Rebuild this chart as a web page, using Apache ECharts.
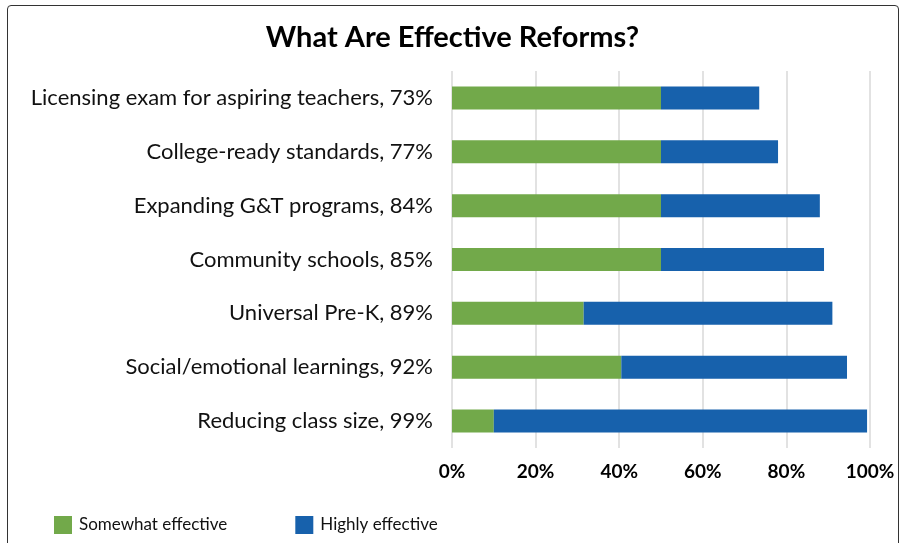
<!DOCTYPE html>
<html>
<head>
<meta charset="utf-8">
<script src="https://cdn.jsdelivr.net/npm/echarts@6/dist/echarts.min.js"></script>
<style>
html,body{margin:0;padding:0;background:#fff;}
#frame{position:absolute;left:7px;top:5px;width:892px;height:560px;border:1.5px solid #333;border-radius:4px;box-sizing:border-box;}
#chart{position:absolute;left:0;top:0;width:905px;height:543px;}
</style>
</head>
<body>
<div id="frame"></div>
<div id="chart"></div>
<script>
const categories = [
  "Licensing exam for aspiring teachers, 73%",
  "College-ready standards, 77%",
  "Expanding G&T programs, 84%",
  "Community schools, 85%",
  "Universal Pre-K, 89%",
  "Social/emotional learnings, 92%",
  "Reducing class size, 99%"
];
const somewhatEffective = [50, 50, 50, 50, 31.5, 40.5, 10];
const highlyEffective = [23.5, 28, 38, 39, 59.5, 54, 89.3];
const tickLabels = ["0%", "20%", "40%", "60%", "80%", "100%"];

const chart = echarts.init(document.getElementById('chart'));
chart.setOption({
  animation: false,
  title: {
    text: 'What Are Effective Reforms?',
    left: 'center',
    top: 18,
    textStyle: {fontFamily: 'Lato', fontWeight: 'bold', fontSize: 29, color: '#000'}
  },
  legend: {
    left: 49,
    top: 511,
    itemWidth: 18,
    itemHeight: 18,
    itemGap: 68,
    icon: 'rect',
    textStyle: {fontFamily: 'Lato', fontSize: 17, color: '#111', padding: [0,0,0,2]},
    data: ['Somewhat effective', 'Highly effective']
  },
  grid: {left: 452, right: 35, top: 71, height: 377},
  xAxis: {
    type: 'value',
    min: 0, max: 100, interval: 20,
    axisLine: {show: false},
    axisTick: {show: false},
    splitLine: {lineStyle: {color: '#d9d9d9', width: 1.5}},
    axisLabel: {
      margin: 14,
      fontFamily: 'Lato', fontWeight: 'bold', fontSize: 19, color: '#000',
      formatter: v => tickLabels[Math.round(v / 20)]
    }
  },
  yAxis: {
    type: 'category',
    inverse: true,
    data: categories,
    axisLine: {show: false},
    axisTick: {show: false},
    axisLabel: {margin: 19, fontFamily: 'Lato', fontSize: 22, color: '#111'}
  },
  series: [
    {name: 'Somewhat effective', type: 'bar', stack: 't', barWidth: 23, data: somewhatEffective, itemStyle: {color: '#72a94a'}},
    {name: 'Highly effective', type: 'bar', stack: 't', barWidth: 23, data: highlyEffective, itemStyle: {color: '#1761ac'}}
  ]
});
</script>
</body>
</html>
